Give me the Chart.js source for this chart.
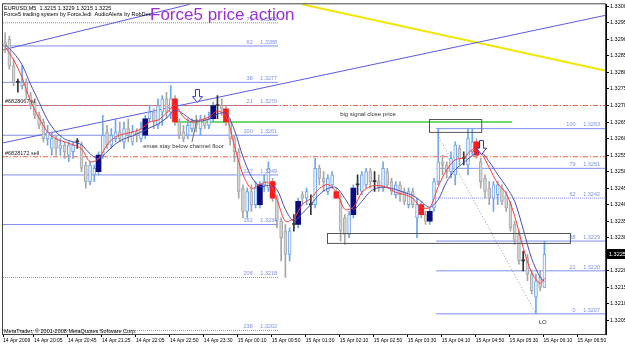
<!DOCTYPE html>
<html>
<head>
<meta charset="utf-8">
<script src="https://cdn.jsdelivr.net/npm/chart.js@4.4.1/dist/chart.umd.min.js"></script>
<style>
  html, body { margin: 0; padding: 0; background: #ffffff; }
  #wrap { position: relative; width: 625px; height: 348px; }
</style>
</head>
<body>
<div id="wrap"><canvas id="chart" width="625" height="348"></canvas></div>
<script>
// EURUSD M5, 14-15 Apr 2009.
const symbolText = "EURUSD,M5  1.3215 1.3229 1.3215 1.3225";
const subText = "Force5 trading system by ForceJedi  AudioAlerts by RobDee";
const titleText = "Force5 price action";

// Candles (bar 0 = left edge)
const open = [
  1.3289,1.3290,1.3282,1.3277,1.3276,1.3277,1.3273,1.3271,1.3267,1.3265,
  1.3260,1.3257,1.3260,1.3257,1.3258,1.3255,1.3256,1.3259,1.3258,1.3252,
  1.3247,1.3249,1.3250,1.3255,1.3262,1.3258,1.3260,1.3262,1.3259,1.3263,
  1.3259,1.3262,1.3260,1.3261,1.3266,1.3268,1.3264,1.3268,1.3272,1.3268,
  1.3272,1.3265,1.3262,1.3261,1.3263,1.3265,1.3263,1.3266,1.3264,1.3266,
  1.3270,1.3270,1.3269,1.3265,1.3260,1.3256,1.3245,1.3238,1.3244,1.3240,
  1.3240,1.3246,1.3245,1.3247,1.3242,1.3235,1.3232,1.3225,1.3234,1.3234,
  1.3243,1.3242,1.3240,1.3240,1.3251,1.3248,1.3244,1.3246,1.3244,1.3241,
  1.3236,1.3231,1.3237,1.3246,1.3244,1.3246,1.3250,1.3247,1.3247,1.3245,
  1.3250,1.3247,1.3243,1.3246,1.3244,1.3240,1.3244,1.3236,1.3240,1.3237,
  1.3235,1.3239,1.3247,1.3253,1.3252,1.3250,1.3249,1.3257,1.3254,1.3252,
  1.3256,1.3259,1.3253,1.3248,1.3245,1.3242,1.3243,1.3245,1.3243,1.3240,
  1.3234,1.3231,1.3223,1.3224,1.3219,1.3212,1.3218,1.3215
];
const high = [
  1.3292,1.3291,1.3284,1.3278,1.3282,1.3278,1.3274,1.3272,1.3268,1.3266,
  1.3264,1.3262,1.3261,1.3260,1.3259,1.3259,1.3259,1.3260,1.3259,1.3253,
  1.3253,1.3252,1.3256,1.3267,1.3264,1.3263,1.3266,1.3265,1.3265,1.3266,
  1.3264,1.3263,1.3265,1.3267,1.3270,1.3269,1.3272,1.3273,1.3274,1.3276,
  1.3273,1.3266,1.3264,1.3266,1.3266,1.3267,1.3267,1.3267,1.3268,1.3271,
  1.3273,1.3272,1.3270,1.3266,1.3261,1.3257,1.3246,1.3245,1.3246,1.3247,
  1.3247,1.3249,1.3253,1.3248,1.3243,1.3236,1.3234,1.3233,1.3237,1.3242,
  1.3244,1.3245,1.3243,1.3254,1.3252,1.3250,1.3249,1.3250,1.3245,1.3243,
  1.3237,1.3238,1.3246,1.3249,1.3250,1.3251,1.3251,1.3250,1.3249,1.3253,
  1.3251,1.3248,1.3247,1.3247,1.3245,1.3245,1.3245,1.3242,1.3241,1.3238,
  1.3239,1.3248,1.3263,1.3255,1.3253,1.3256,1.3259,1.3258,1.3256,1.3263,
  1.3263,1.3260,1.3254,1.3249,1.3247,1.3247,1.3247,1.3246,1.3244,1.3241,
  1.3235,1.3232,1.3226,1.3225,1.3220,1.3219,1.3220,1.3229
];
const low = [
  1.3286,1.3281,1.3276,1.3274,1.3275,1.3272,1.3269,1.3266,1.3263,1.3259,
  1.3258,1.3255,1.3255,1.3255,1.3254,1.3253,1.3254,1.3257,1.3250,1.3245,
  1.3246,1.3247,1.3249,1.3254,1.3257,1.3257,1.3259,1.3259,1.3257,1.3259,
  1.3258,1.3259,1.3259,1.3260,1.3265,1.3263,1.3263,1.3264,1.3266,1.3266,
  1.3264,1.3260,1.3259,1.3260,1.3262,1.3262,1.3261,1.3263,1.3263,1.3265,
  1.3266,1.3267,1.3264,1.3258,1.3253,1.3242,1.3236,1.3236,1.3238,1.3239,
  1.3239,1.3244,1.3244,1.3241,1.3233,1.3223,1.3218,1.3223,1.3232,1.3233,
  1.3240,1.3240,1.3237,1.3239,1.3246,1.3244,1.3243,1.3245,1.3242,1.3229,
  1.3228,1.3230,1.3236,1.3243,1.3243,1.3245,1.3245,1.3244,1.3244,1.3244,
  1.3245,1.3243,1.3242,1.3241,1.3240,1.3239,1.3239,1.3230,1.3236,1.3234,
  1.3234,1.3238,1.3246,1.3249,1.3248,1.3248,1.3246,1.3252,1.3252,1.3249,
  1.3255,1.3254,1.3245,1.3242,1.3240,1.3238,1.3240,1.3240,1.3238,1.3232,
  1.3228,1.3222,1.3220,1.3217,1.3213,1.3207,1.3214,1.3215
];
const close = [
  1.3288,1.3282,1.3277,1.3277,1.3277,1.3274,1.3270,1.3267,1.3264,1.3260,
  1.3262,1.3260,1.3257,1.3258,1.3256,1.3258,1.3258,1.3259,1.3251,1.3247,
  1.3252,1.3251,1.3255,1.3261,1.3258,1.3261,1.3262,1.3260,1.3263,1.3261,
  1.3262,1.3261,1.3263,1.3266,1.3268,1.3265,1.3270,1.3272,1.3268,1.3272,
  1.3265,1.3261,1.3260,1.3264,1.3265,1.3264,1.3266,1.3264,1.3266,1.3270,
  1.3270,1.3269,1.3265,1.3260,1.3256,1.3244,1.3238,1.3244,1.3240,1.3245,
  1.3246,1.3247,1.3251,1.3242,1.3235,1.3230,1.3225,1.3232,1.3234,1.3241,
  1.3242,1.3244,1.3240,1.3251,1.3248,1.3247,1.3248,1.3249,1.3242,1.3232,
  1.3231,1.3237,1.3245,1.3246,1.3249,1.3250,1.3247,1.3247,1.3245,1.3251,
  1.3246,1.3244,1.3246,1.3243,1.3241,1.3244,1.3240,1.3240,1.3237,1.3235,
  1.3238,1.3247,1.3253,1.3252,1.3250,1.3254,1.3258,1.3254,1.3254,1.3260,
  1.3259,1.3255,1.3247,1.3244,1.3242,1.3246,1.3246,1.3241,1.3239,1.3233,
  1.3229,1.3223,1.3223,1.3219,1.3214,1.3217,1.3215,1.3225
];

// Force5 signal bars (navy = buy, red = sell)
const navyBars = [22, 33, 49, 60, 69, 82, 100];
const redBars = [40, 52, 63, 78, 98, 111];

// Moving averages, read every second bar
const emaBars = [0,2,4,6,8,10,12,14,16,18,20,22,24,26,28,30,32,34,36,38,40,42,44,46,48,50,
  52,54,56,58,60,62,64,66,68,70,72,74,76,78,80,82,84,86,88,90,92,94,96,98,100,102,104,106,
  108,110,112,114,116,118,120,122,124,126,127];
const emaFast = [
  1.32877,1.32838,1.32784,1.32713,1.32662,1.32620,1.32599,1.32590,1.32581,1.32569,
  1.32530,1.32539,1.32581,1.32605,1.32614,1.32620,1.32629,1.32650,1.32656,1.32677,
  1.32701,1.32665,1.32650,1.32656,1.32665,1.32683,1.32668,1.32578,1.32491,1.32449,
  1.32461,1.32467,1.32416,1.32350,1.32359,1.32401,1.32419,1.32449,1.32461,1.32437,
  1.32386,1.32392,1.32437,1.32455,1.32458,1.32452,1.32437,1.32431,1.32419,1.32392,
  1.32392,1.32455,1.32506,1.32536,1.32542,1.32566,1.32557,1.32512,1.32464,1.32434,
  1.32365,1.32270,1.32195,1.32162,1.32177
];
const emaSlow = [
  1.32883,1.32859,1.32823,1.32764,1.32710,1.32656,1.32620,1.32599,1.32590,1.32581,
  1.32554,1.32539,1.32560,1.32584,1.32599,1.32608,1.32620,1.32632,1.32644,1.32662,
  1.32686,1.32674,1.32656,1.32653,1.32659,1.32674,1.32677,1.32626,1.32545,1.32485,
  1.32455,1.32458,1.32446,1.32386,1.32350,1.32374,1.32401,1.32431,1.32449,1.32452,
  1.32419,1.32386,1.32410,1.32440,1.32452,1.32452,1.32446,1.32437,1.32428,1.32410,
  1.32392,1.32416,1.32470,1.32506,1.32527,1.32548,1.32560,1.32530,1.32491,1.32455,
  1.32410,1.32326,1.32237,1.32180,1.32168
];

// Fibonacci levels
const fibLeftLevels = ["79", "62", "38", "21", "100", "127", "162", "206", "238"];
const fibLeftPrices = [1.3295, 1.3288, 1.3277, 1.3270, 1.3261, 1.3249, 1.3234, 1.3218, 1.3202];
const fibRightLevels = ["100", "79", "62", "38", "21", "0"];
const fibRightPrices = [1.3263, 1.3251, 1.3242, 1.3229, 1.3220, 1.3207];

// Order lines and the signal close
const orderLabels = ["#6828067 sl", "#6828172 sell"];
const orderPrices = [1.3270, 1.32545];
const signalClosePrice = 1.3265;
const lastPrice = 1.3225;

// Trend lines as [bar, price] anchors
const channelFloor = [[-0.5, 1.32587], [141.5, 1.32973]];
const channelTop = [[-0.5, 1.32868], [43.5, 1.33006]];
const yellowLine = [[69.9, 1.33006], [141.5, 1.32805]];
const swingLine = [[101.5, 1.32620], [124.8, 1.32075]];

// Axes
const priceTicks = [1.3205,1.3210,1.3215,1.3220,1.3225,1.3230,1.3235,1.3240,1.3245,1.3250,
  1.3255,1.3260,1.3265,1.3270,1.3275,1.3280,1.3285,1.3290,1.3295,1.3300];
const timeLabels = ["14 Apr 2009", "14 Apr 20:05", "14 Apr 20:45", "14 Apr 21:25", "14 Apr 22:05",
  "14 Apr 22:50", "14 Apr 23:30", "15 Apr 00:10", "15 Apr 00:50", "15 Apr 01:30", "15 Apr 02:10",
  "15 Apr 02:50", "15 Apr 03:30", "15 Apr 04:10", "15 Apr 04:50", "15 Apr 05:30", "15 Apr 06:10",
  "15 Apr 06:50"];
const timeTickBars = [-0.5, 6.8, 14.8, 22.8, 30.8, 38.8, 46.8, 54.8, 62.8, 70.8, 78.8, 86.8,
  94.8, 102.8, 110.8, 118.8, 126.8, 134.8];

// -------------------------------------------------------------------
// Styles
// -------------------------------------------------------------------
const FONT = '"Liberation Sans", Arial, sans-serif';
const fibColor = "#7d8ef0";
const bullFill = "#eef5ff", bullLine = "#6fa6ee";
const bearFill = "#d4d4d4", bearLine = "#a9a9a9";
const dojiColor = "#333333";
const fibLeftDash = [[1, 1], [], [], [], [], [], [], [1, 1], [1, 1]];
const fibRightDash = [[], [], [1, 1], [], [], []];
const fibLeftEnd = 64.3, fibRightStart = 101.5;

const bars = open.map((_, i) => i);
const isDoji = i => open[i] === close[i];
const isBull = i => close[i] > open[i];

function seg(points, color, width, dash, order) {
  return {
    type: "line",
    data: points.map(p => ({ x: p[0], y: p[1] })),
    borderColor: color,
    borderWidth: width,
    borderDash: dash || [],
    pointRadius: 0,
    order: order,
    tension: 0
  };
}

const datasets = [];

// fib lines
fibLeftPrices.forEach((p, k) => {
  datasets.push(seg([[-0.5, p], [fibLeftEnd, p]], fibColor, 1, fibLeftDash[k], 20));
});
fibRightPrices.forEach((p, k) => {
  datasets.push(seg([[fibRightStart, p], [141.5, p]], fibColor, 1, fibRightDash[k], 20));
});
// order lines
orderPrices.forEach(p => {
  datasets.push(seg([[-0.5, p], [141.5, p]], "#f06040", 1, [5, 2, 1, 2], 19));
});
// trend lines
datasets.push(seg(channelFloor, "#5a5ae8", 1, [], 18));
datasets.push(seg(channelTop, "#5a5ae8", 1, [], 18));
datasets.push(seg(yellowLine, "#f2e600", 2, [], 18));
datasets.push(seg(swingLine, "#999999", 1, [1, 2], 18));
datasets.push(seg([[40, signalClosePrice], [119.4, signalClosePrice]], "#3fcf3f", 1.5, [], 18));

// wicks
datasets.push({
  type: "bar",
  data: bars.map(i => ({ x: i, y: [low[i], high[i]] })),
  backgroundColor: c => isDoji(c.dataIndex) ? dojiColor : isBull(c.dataIndex) ? bullLine : "#a6a6a6",
  barThickness: 1,
  grouped: false,
  order: 10
});
// bodies
datasets.push({
  type: "bar",
  data: bars.map(i => ({ x: i, y: [open[i], close[i]] })),
  backgroundColor: c => isDoji(c.dataIndex) ? dojiColor : isBull(c.dataIndex) ? bullFill : bearFill,
  borderColor: c => isBull(c.dataIndex) ? bullLine : bearLine,
  borderWidth: c => isDoji(c.dataIndex) ? 0 : 1,
  borderSkipped: false,
  minBarLength: 1,
  barThickness: 3,
  grouped: false,
  order: 9
});
// signal bars
datasets.push({
  type: "bar",
  data: navyBars.map(i => ({ x: i, y: [open[i], close[i]] })),
  backgroundColor: "#0a0a80",
  barThickness: 5,
  grouped: false,
  order: 8
});
datasets.push({
  type: "bar",
  data: redBars.map(i => ({ x: i, y: [open[i], close[i]] })),
  backgroundColor: "#ff1a1a",
  barThickness: 5,
  grouped: false,
  order: 8
});
// EMAs
datasets.push(Object.assign(seg(emaBars.map((b, k) => [b, emaSlow[k]]), "#4a4ab8", 1, [], 5), { tension: 0.3 }));
datasets.push(Object.assign(seg(emaBars.map((b, k) => [b, emaFast[k]]), "#ff3b3b", 1, [], 4), { tension: 0.3 }));

// -------------------------------------------------------------------
// Annotation drawing
// -------------------------------------------------------------------
function downArrow(ctx, cx, top, bottom) {
  const headH = (bottom - top) * 0.45;
  ctx.beginPath();
  ctx.moveTo(cx - 2, top);
  ctx.lineTo(cx + 2, top);
  ctx.lineTo(cx + 2, bottom - headH);
  ctx.lineTo(cx + 5, bottom - headH);
  ctx.lineTo(cx, bottom);
  ctx.lineTo(cx - 5, bottom - headH);
  ctx.lineTo(cx - 2, bottom - headH);
  ctx.closePath();
  ctx.fillStyle = "#ffffff";
  ctx.fill();
  ctx.strokeStyle = "#3535c0";
  ctx.lineWidth = 1;
  ctx.stroke();
}

const overlay = {
  id: "overlay",
  afterDatasetsDraw(chart) {
    const { ctx, chartArea: a, scales: { x, y } } = chart;
    const X = v => x.getPixelForValue(v), Y = v => y.getPixelForValue(v);
    ctx.save();

    // fib labels
    ctx.font = "5.5px " + FONT;
    ctx.fillStyle = fibColor;
    ctx.textAlign = "right";
    ctx.textBaseline = "bottom";
    fibLeftPrices.forEach((p, k) => {
      ctx.fillText(fibLeftLevels[k] + "     " + p.toFixed(4), X(fibLeftEnd) - 1, Y(p) - 1);
    });
    fibRightPrices.forEach((p, k) => {
      ctx.fillText(fibRightLevels[k] + "     " + p.toFixed(4), a.right - 6, Y(p) - 1);
    });

    // order labels
    ctx.fillStyle = "#222";
    ctx.textAlign = "left";
    orderPrices.forEach((p, k) => ctx.fillText(orderLabels[k], a.left + 2, Y(p) - 1));

    // rectangles
    ctx.strokeStyle = "#555";
    ctx.lineWidth = 1;
    ctx.strokeRect(Math.round(X(99.8)) + 0.5, Math.round(Y(1.32659)) + 0.5, X(112.1) - X(99.8), Y(1.32620) - Y(1.32659));
    ctx.strokeRect(Math.round(X(75.8)) + 0.5, Math.round(Y(1.32314)) + 0.5, X(133) - X(75.8), Y(1.32284) - Y(1.32314));

    // notes
    ctx.font = "6px " + FONT;
    ctx.fillStyle = "#333";
    ctx.textBaseline = "middle";
    ctx.fillText("big signal close price", X(78.9), Y(1.32674));
    ctx.fillText("emas stay below channel floor", X(32.5), Y(1.32575));
    ctx.textAlign = "center";
    ctx.fillText("LO", X(126.6), Y(1.32045));
    ctx.strokeStyle = "#666";
    ctx.beginPath();
    ctx.moveTo(X(44), Y(1.32590));
    ctx.lineTo(X(45.2), Y(1.32659));
    ctx.stroke();

    // arrows
    downArrow(ctx, Math.round(X(45.3)) + 0.5, Math.round(Y(1.32749)) + 0.5, Math.round(Y(1.32710)) + 0.5);
    downArrow(ctx, Math.round(X(112.1)) + 0.5, Math.round(Y(1.32596)) + 0.5, Math.round(Y(1.32554)) + 0.5);

    // header and copyright
    ctx.textAlign = "left";
    ctx.textBaseline = "middle";
    ctx.fillStyle = "#000";
    ctx.font = "5.5px " + FONT;
    ctx.fillText(symbolText, a.left + 1, a.top + 4);
    ctx.fillText(subText, a.left + 1, a.top + 10);
    ctx.fillText("MetaTrader, \u00a9 2001-2008 MetaQuotes Software Corp.", a.left + 1, a.bottom - 3);

    ctx.font = "17px " + FONT;
    ctx.fillStyle = "#9b2fd6";
    ctx.fillText(titleText, 150, a.top + 11);
    ctx.restore();
  },
  afterDraw(chart) {
    const { ctx, chartArea: a, scales: { y } } = chart;
    ctx.save();
    ctx.strokeStyle = "#444";
    ctx.lineWidth = 1;
    ctx.strokeRect(a.left - 0.5, a.top - 0.5, a.right - a.left, a.bottom - a.top + 1);
    const py = Math.round(y.getPixelForValue(lastPrice));
    ctx.fillStyle = "#000";
    ctx.fillRect(a.right + 1, py - 5, 19, 10);
    ctx.fillStyle = "#fff";
    ctx.font = "5.5px " + FONT;
    ctx.textBaseline = "middle";
    ctx.fillText(lastPrice.toFixed(4), a.right + 3, py);
    ctx.restore();
  }
};

const chart = new Chart(document.getElementById("chart"), {
  type: "bar",
  data: { datasets: datasets },
  options: {
    responsive: false,
    animation: false,
    devicePixelRatio: 1,
    layout: { padding: { left: 3, top: 1, right: 0, bottom: 0 } },
    plugins: { legend: { display: false }, tooltip: { enabled: false } },
    elements: { point: { radius: 0 } },
    scales: {
      x: {
        type: "linear",
        offset: false,
        min: -0.5,
        max: 141.5,
        afterBuildTicks: s => { s.ticks = timeTickBars.map(v => ({ value: v })); },
        afterFit: s => { s.height = 14; s.paddingLeft = 0; s.paddingRight = 0; },
        ticks: {
          autoSkip: false,
          maxRotation: 0,
          align: "start",
          padding: 1,
          color: "#000",
          font: { family: FONT, size: 5 },
          callback: (v, k) => timeLabels[k]
        },
        grid: { offset: false, drawOnChartArea: false, tickLength: 3, color: "#000" },
        border: { display: true, color: "#000" }
      },
      y: {
        position: "right",
        min: 1.32009,
        max: 1.33006,
        afterBuildTicks: s => { s.ticks = priceTicks.map(v => ({ value: v })); },
        afterFit: s => { s.width = 19; },
        ticks: {
          padding: 1,
          color: "#000",
          font: { family: FONT, size: 5.5 },
          callback: v => v.toFixed(4)
        },
        grid: { drawOnChartArea: false, tickLength: 3, color: "#000" },
        border: { display: true, color: "#000" }
      }
    }
  },
  plugins: [overlay]
});
</script>
</body>
</html>
